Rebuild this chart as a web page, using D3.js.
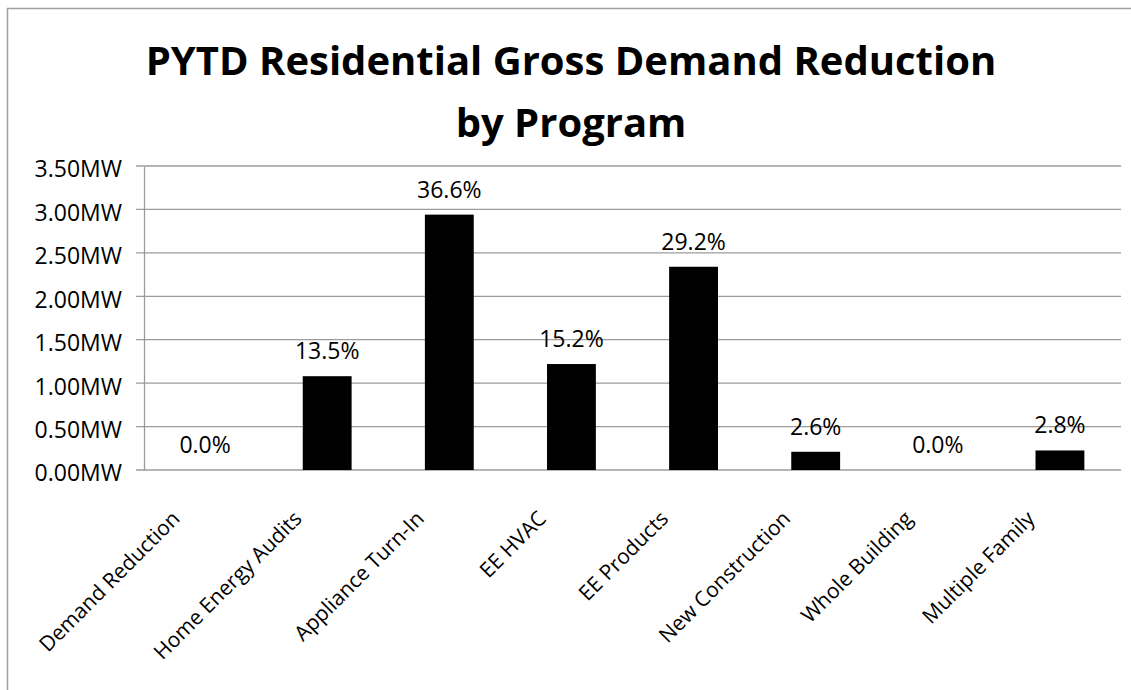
<!DOCTYPE html>
<html>
<head>
<meta charset="utf-8">
<script src="https://cdn.jsdelivr.net/npm/d3@7"></script>
<style>
  body { margin: 0; background: #fff; }
  text { font-family: "Open Sans", sans-serif; fill: #000; }
</style>
</head>
<body>
<div id="chart"></div>
<script>
// data
var programs = ["Demand Reduction", "Home Energy Audits", "Appliance Turn-In", "EE HVAC",
                "EE Products", "New Construction", "Whole Building", "Multiple Family"];
var demandMW = [0, 1.08, 2.94, 1.22, 2.34, 0.21, 0, 0.225];
var shareLabels = ["0.0%", "13.5%", "36.6%", "15.2%", "29.2%", "2.6%", "0.0%", "2.8%"];
var yTicks = [0, 0.5, 1, 1.5, 2, 2.5, 3, 3.5];
var titleLines = ["PYTD Residential Gross Demand Reduction", "by Program"];

(function()
{
    var W = 1131, H = 690;
    // plot area
    var left = 144, right = 1121, top = 166, bottom = 470;

    var svg = d3.select("#chart").append("svg")
        .attr("width", W)
        .attr("height", H);

    // outer chart border (right/bottom edges fall outside the picture)
    svg.append("rect")
        .attr("x", 7.5).attr("y", 8.5)
        .attr("width", W + 20).attr("height", H + 20)
        .attr("fill", "none")
        .attr("stroke", "#a0a0a0")
        .attr("stroke-width", 1.5);

    // title
    svg.selectAll(".title")
        .data(titleLines)
        .enter().append("text")
        .attr("class", "title")
        .attr("x", 571)
        .attr("y", function(d, i) { return 75 + i * 62; })
        .attr("text-anchor", "middle")
        .style("font-size", "40px")
        .style("font-weight", "bold")
        .text(function(d) { return d; });

    var x = d3.scaleBand().domain(programs).range([left, right])
        .paddingInner(0.6).paddingOuter(0.3);
    var y = d3.scaleLinear().domain([0, 3.5]).range([bottom, top]);

    // gridlines
    svg.append("g").selectAll("line")
        .data(yTicks)
        .enter().append("line")
        .attr("x1", left - 8).attr("x2", right)
        .attr("y1", function(d) { return y(d); })
        .attr("y2", function(d) { return y(d); })
        .attr("stroke", "#9c9c9c")
        .attr("stroke-width", 1.3);

    // y axis
    var yAxis = svg.append("g")
        .attr("transform", "translate(" + left + ",0)")
        .call(d3.axisLeft(y).tickValues(yTicks).tickSize(0).tickPadding(22)
            .tickFormat(function(d) { return d.toFixed(2) + "MW"; }));
    yAxis.select(".domain").attr("stroke", "#9c9c9c").attr("stroke-width", 1.3);
    yAxis.selectAll("text")
        .attr("dy", "0.32em")
        .attr("y", 3.5)
        .style("font-size", "23px")
        .style("font-family", "\"Open Sans\", sans-serif");

    // bars
    svg.selectAll(".bar")
        .data(demandMW)
        .enter().append("rect")
        .attr("class", "bar")
        .attr("x", function(d, i) { return x(programs[i]); })
        .attr("width", x.bandwidth())
        .attr("y", function(d) { return y(d); })
        .attr("height", function(d) { return bottom - y(d); })
        .attr("fill", "#000");

    // percent labels above bars
    svg.selectAll(".pct")
        .data(demandMW)
        .enter().append("text")
        .attr("class", "pct")
        .attr("x", function(d, i) { return x(programs[i]) + x.bandwidth() / 2; })
        .attr("y", function(d) { return y(d) - 17; })
        .attr("text-anchor", "middle")
        .style("font-size", "23px")
        .text(function(d, i) { return shareLabels[i]; });

    // rotated category labels
    svg.selectAll(".cat")
        .data(programs)
        .enter().append("text")
        .attr("class", "cat")
        .attr("text-anchor", "end")
        .attr("transform", function(d) {
            var cx = x(d) + x.bandwidth() / 2;
            return "translate(" + (cx - 24) + "," + (bottom + 50) + ") rotate(-45)";
        })
        .style("font-size", "21px")
        .text(function(d) { return d; });

})()
</script>
</body>
</html>
